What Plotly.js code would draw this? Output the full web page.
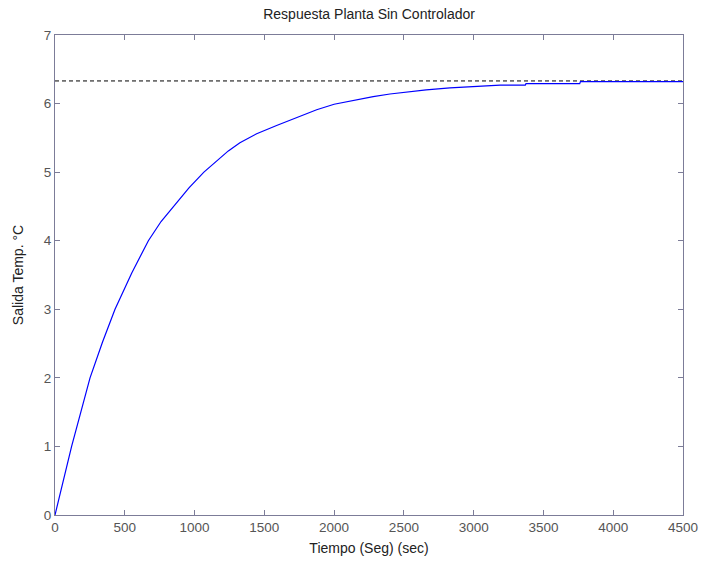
<!DOCTYPE html>
<html>
<head>
<meta charset="utf-8">
<script src="https://cdn.plot.ly/plotly-3.0.1.min.js"></script>
<style>html,body{margin:0;padding:0;background:#fff;}#chart{width:703px;height:567px;}</style>
</head>
<body>
<div id="chart"></div>
<script>
// Step response
const timeSec = [0, 60, 119, 185, 251, 340, 430, 550, 669, 760, 860, 960, 1067, 1134, 1242, 1325, 1445, 1588, 1755, 1875, 2000, 2140, 2280, 2400, 2520, 2660, 2830, 3000, 3190, 3370, 3375, 3760, 3765, 4500];
const tempOut = [0, 0.52, 1.0, 1.5, 2.0, 2.52, 3.0, 3.53, 4.0, 4.28, 4.52, 4.77, 5.0, 5.12, 5.31, 5.43, 5.56, 5.68, 5.82, 5.91, 5.99, 6.05, 6.10, 6.14, 6.17, 6.20, 6.23, 6.25, 6.27, 6.27, 6.29, 6.29, 6.32, 6.32];
const finalX = [0, 4500];
const finalY = [6.33, 6.33];
const xTicks = [0, 500, 1000, 1500, 2000, 2500, 3000, 3500, 4000, 4500];
const yTicks = [0, 1, 2, 3, 4, 5, 6, 7];

const axisColor = '#7c7c98';
const font = {family: 'Liberation Sans, Arial, sans-serif', size: 13.5, color: '#555'};
const labelFont = {family: 'Liberation Sans, Arial, sans-serif', size: 14, color: '#222'};

const traces = [
  {x: finalX, y: finalY, mode: 'lines', line: {color: '#000', width: 1, dash: '4px,3px'}, hoverinfo: 'skip'},
  {x: timeSec, y: tempOut, mode: 'lines', line: {color: '#0000ff', width: 1.2}}
];

const axisCommon = {
  showgrid: false, zeroline: false, showline: true, mirror: 'ticks',
  linecolor: axisColor, linewidth: 1, ticks: 'inside', ticklen: 5,
  tickcolor: axisColor, tickfont: font
};

const layout = {
  width: 703, height: 567,
  margin: {l: 55, r: 20, t: 35, b: 52},
  showlegend: false,
  paper_bgcolor: '#fff', plot_bgcolor: '#fff',
  title: {text: 'Respuesta Planta Sin Controlador', font: labelFont, x: 0.525, xanchor: 'center', y: 0.975, yanchor: 'middle'},
  xaxis: Object.assign({}, axisCommon, {range: [0, 4500], tickvals: xTicks, ticktext: xTicks.map(String),
    title: {text: 'Tiempo (Seg) (sec)', font: labelFont, standoff: 8}}),
  yaxis: Object.assign({}, axisCommon, {range: [0, 7], tickvals: yTicks, ticktext: yTicks.map(String),
    title: {text: 'Salida Temp. °C', font: labelFont, standoff: 16}})
};

Plotly.newPlot('chart', traces, layout, {displayModeBar: false, staticPlot: true});
</script>
</body>
</html>
